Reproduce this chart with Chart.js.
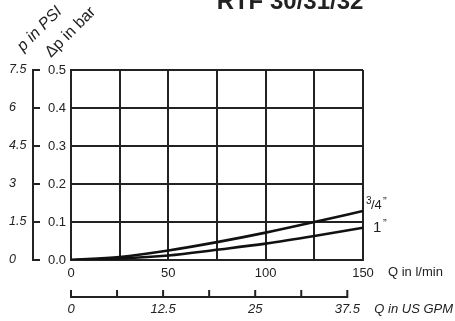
<!DOCTYPE html>
<html>
<head>
<meta charset="utf-8">
<script src="https://cdn.jsdelivr.net/npm/chart.js@4.4.1/dist/chart.umd.min.js"></script>
<style>
  html, body { margin: 0; padding: 0; background: #fff; }
  #wrap { width: 455px; height: 321px; }
</style>
</head>
<body>
<div id="wrap"><canvas id="chart"></canvas></div>
<script>
// flow in l/min and pressure drop in bar
const flowLpm = [0, 25, 50, 75, 100, 125, 150];
const dpThreeQuarter = [0, 0.008, 0.025, 0.047, 0.072, 0.100, 0.129];
const dpOne = [0, 0.004, 0.012, 0.027, 0.043, 0.063, 0.085];
const seriesNames = ["3/4\u201D", "1\u201D"];

const lpmTicks = [0, 25, 50, 75, 100, 125, 150];
const lpmLabels = [0, 50, 100, 150];
const barTicks = [0, 0.1, 0.2, 0.3, 0.4, 0.5];
const psiTicks = [0, 1.5, 3, 4.5, 6, 7.5];
const gpmTicks = [0, 6.25, 12.5, 18.75, 25, 31.25, 37.5];
const gpmLabels = [0, 12.5, 25, 37.5];

const LPM_PER_GPM = 3.785;
const chartTitle = "RTF 30/31/32";

const ink = "#222";
const sans = "'Liberation Sans', Arial, sans-serif";

const toPoints = ys => flowLpm.map((q, i) => ({ x: q, y: ys[i] }));
const fixedTicks = list => scale => { scale.ticks = list.map(v => ({ value: v })); };

function curveLabel(ctx, text, x, y) {
    // 3/4" gets a small raised 3, the other one is plain
    if (text.startsWith("3/4")) {
        ctx.font = `10px ${sans}`;
        ctx.fillText("3", x - 2, y - 3);
        ctx.font = `13px ${sans}`;
        ctx.fillText("/4", x + 3, y + 2);
        ctx.font = `11px ${sans}`;
        ctx.fillText("\u201D", x + 15, y - 2);
    } else {
        ctx.font = `15px ${sans}`;
        ctx.fillText("1", x + 5, y + 2);
        ctx.font = `11px ${sans}`;
        ctx.fillText("\u201D", x + 15, y - 3);
    }
}

const extras = {
    id: "extras",
    afterDraw(chart) {
        const { ctx } = chart;
        const { x, y2, x2 } = chart.scales;
        const datasets = chart.data.datasets;

        ctx.save();
        ctx.strokeStyle = ink;
        ctx.fillStyle = ink;
        ctx.lineWidth = 2;

        // PSI axis: line with ticks pointing right
        const px = y2.right;
        ctx.beginPath();
        ctx.moveTo(px, y2.getPixelForValue(psiTicks[0]) + 1);
        ctx.lineTo(px, y2.getPixelForValue(psiTicks[psiTicks.length - 1]) - 1);
        psiTicks.forEach(v => {
            const py = y2.getPixelForValue(v);
            ctx.moveTo(px - 1, py);
            ctx.lineTo(px + 7, py);
        });
        ctx.stroke();

        // GPM axis: line with ticks pointing up
        const gy = x2.top + 7;
        ctx.beginPath();
        ctx.moveTo(x2.getPixelForValue(gpmTicks[0]) - 1, gy);
        ctx.lineTo(x2.getPixelForValue(gpmTicks[gpmTicks.length - 1]) + 1, gy);
        gpmTicks.forEach(v => {
            const gx = x2.getPixelForValue(v);
            ctx.moveTo(gx, gy + 1);
            ctx.lineTo(gx, gy - 7);
        });
        ctx.stroke();

        // axis names
        ctx.textBaseline = "alphabetic";
        ctx.textAlign = "left";
        ctx.font = `13px ${sans}`;
        ctx.fillText("Q in l/min", x.right + 25, 276);
        ctx.font = `italic 13px ${sans}`;
        ctx.fillText("Q in US GPM", x2.getPixelForValue(37.5) + 27, 313);

        ctx.save();
        ctx.translate(23, 52);
        ctx.rotate(-Math.PI / 4);
        ctx.font = `italic 16px ${sans}`;
        ctx.fillText("p in PSI", 0, 0);
        ctx.restore();

        ctx.save();
        ctx.translate(51, 58);
        ctx.rotate(-Math.PI / 4);
        ctx.font = `16px ${sans}`;
        ctx.fillText("\u0394p in bar", 0, 0);
        ctx.restore();

        // curve names at the line ends
        datasets.forEach((ds, i) => {
            const last = ds.data[ds.data.length - 1];
            const ly = chart.scales.y.getPixelForValue(last.y);
            const lx = x.getPixelForValue(last.x);
            curveLabel(ctx, seriesNames[i], lx + 5, ly - 4 + i * 6);
        });

        // title, cut by the top edge as in the sheet
        ctx.textAlign = "center";
        ctx.font = `bold 24px ${sans}`;
        ctx.fillText(chartTitle, 290, 9);

        ctx.restore();
    }
};

new Chart(document.getElementById("chart"), {
    type: "scatter",
    data: {
        datasets: [
            { label: seriesNames[0], data: toPoints(dpThreeQuarter) },
            { label: seriesNames[1], data: toPoints(dpOne) }
        ].map(ds => ({
            ...ds,
            showLine: true,
            borderColor: "#111",
            borderWidth: 2.6,
            pointRadius: 0,
            cubicInterpolationMode: "monotone",
            fill: false
        }))
    },
    options: {
        responsive: true,
        maintainAspectRatio: false,
        animation: false,
        layout: { padding: { left: 9, top: 70, right: 92, bottom: 0 } },
        plugins: {
            legend: { display: false },
            tooltip: { enabled: false }
        },
        scales: {
            x: {
                type: "linear",
                position: "bottom",
                weight: 0,
                min: 0,
                max: 150,
                afterBuildTicks: fixedTicks(lpmTicks),
                afterFit: s => { s.height = 30; },
                grid: { color: ink, lineWidth: 2, drawTicks: false },
                border: { color: ink, width: 2 },
                ticks: {
                    color: ink,
                    padding: 6,
                    autoSkip: false,
                    maxRotation: 0,
                    font: { family: sans, size: 13 },
                    callback: v => lpmLabels.includes(v) ? String(v) : ""
                }
            },
            x2: {
                type: "linear",
                position: "bottom",
                weight: 1,
                min: 0,
                max: 150 / LPM_PER_GPM,
                afterBuildTicks: fixedTicks(gpmTicks),
                afterFit: s => { s.height = 31; },
                grid: { display: false },
                border: { display: false },
                ticks: {
                    color: ink,
                    padding: 4,
                    autoSkip: false,
                    maxRotation: 0,
                    font: { family: sans, size: 13, style: "italic" },
                    callback: v => gpmLabels.includes(v) ? String(v) : ""
                }
            },
            y: {
                type: "linear",
                position: "left",
                weight: 0,
                min: 0,
                max: 0.5,
                afterBuildTicks: fixedTicks(barTicks),
                afterFit: s => { s.width = 38; },
                grid: { color: ink, lineWidth: 2, drawTicks: false },
                border: { color: ink, width: 2 },
                ticks: {
                    color: ink,
                    padding: 5,
                    font: { family: sans, size: 13 },
                    callback: v => v.toFixed(1)
                }
            },
            y2: {
                type: "linear",
                position: "left",
                weight: 1,
                min: 0,
                max: 7.5,
                afterBuildTicks: fixedTicks(psiTicks),
                afterFit: s => { s.width = 24; },
                grid: { display: false },
                border: { display: false },
                ticks: {
                    color: ink,
                    crossAlign: "far",
                    font: { family: sans, size: 12.5, style: "italic" },
                    callback: v => String(v)
                }
            }
        }
    },
    plugins: [extras]
});
</script>
</body>
</html>
